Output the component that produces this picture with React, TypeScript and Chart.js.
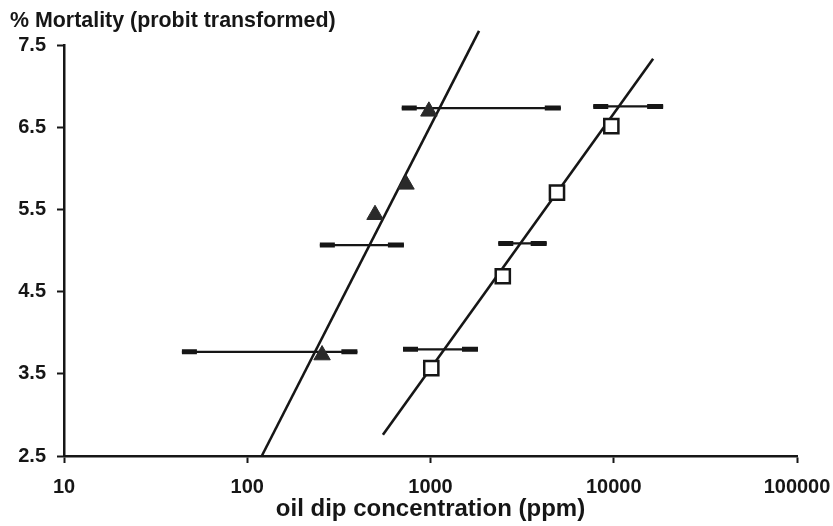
import React, { useEffect, useRef } from "react";
import { Chart, registerables } from "chart.js";

Chart.register(...registerables);

// Axis ticks
const xTickValues = [10, 100, 1000, 10000, 100000];
const yTickValues = [2.5, 3.5, 4.5, 5.5, 6.5, 7.5];

// Observed mortality (probit) — triangle series
const triangleConc = [256, 498, 735, 980];
const triangleProbit = [3.73, 5.44, 5.81, 6.7];

// Observed mortality (probit) — square series
const squareConc = [1010, 2480, 4900, 9700];
const squareProbit = [3.57, 4.69, 5.71, 6.52];

// Fitted probit regression lines (end points)
const triangleFitConc = [120, 1840];
const triangleFitProbit = [2.5, 7.68];
const squareFitConc = [550, 16400];
const squareFitProbit = [2.76, 7.34];

// Confidence intervals of the lethal concentrations
const triangleCiProbit = [3.77, 5.07, 6.74];
const triangleCiLow = [44, 249, 697];
const triangleCiHigh = [399, 716, 5140];
const squareCiProbit = [3.8, 5.09, 6.76];
const squareCiLow = [708, 2344, 7730];
const squareCiHigh = [1816, 4305, 18600];

const FONT = "'Liberation Sans', Arial, Helvetica, sans-serif";
const INK = "#161616";

const pairs = (xs: number[], ys: number[]) => xs.map((x, i) => ({ x, y: ys[i] }));

const intervals = [
  ...triangleCiProbit.map((y, i) => ({ y, lo: triangleCiLow[i], hi: triangleCiHigh[i] })),
  ...squareCiProbit.map((y, i) => ({ y, lo: squareCiLow[i], hi: squareCiHigh[i] })),
];

// Horizontal interval bars with heavy end segments
const intervalBars = {
  id: "intervalBars",
  beforeDatasetsDraw(chart: any) {
    const { ctx, scales } = chart;
    const xs = scales.x;
    const ys = scales.y;
    ctx.save();
    ctx.strokeStyle = INK;
    ctx.lineCap = "butt";
    for (const iv of intervals) {
      const y = ys.getPixelForValue(iv.y);
      const x1 = xs.getPixelForValue(iv.lo);
      const x2 = xs.getPixelForValue(iv.hi);
      ctx.lineWidth = 2.2;
      ctx.beginPath();
      ctx.moveTo(x1, y);
      ctx.lineTo(x2, y);
      ctx.stroke();
      ctx.lineWidth = 5;
      ctx.beginPath();
      ctx.moveTo(x1, y);
      ctx.lineTo(x1 + 15, y);
      ctx.moveTo(x2 - 16, y);
      ctx.lineTo(x2, y);
      ctx.stroke();
    }
    ctx.restore();
  },
};

export default function App() {
  const canvasRef = useRef<HTMLCanvasElement | null>(null);

  useEffect(() => {
    if (!canvasRef.current) return;
    const chart = new Chart(canvasRef.current, {
      type: "scatter",
      data: {
        datasets: [
          {
            data: pairs(triangleConc, triangleProbit),
            pointStyle: "triangle",
            pointRadius: 9.5,
            backgroundColor: "#2a2a2a",
            borderColor: "#2a2a2a",
            borderWidth: 1,
          },
          {
            data: pairs(squareConc, squareProbit),
            pointStyle: "rect",
            pointRadius: 10,
            backgroundColor: "#ffffff",
            borderColor: INK,
            borderWidth: 2.5,
          },
          {
            type: "line",
            data: pairs(triangleFitConc, triangleFitProbit),
            showLine: true,
            pointRadius: 0,
            borderColor: INK,
            borderWidth: 2.6,
            clip: false,
          },
          {
            type: "line",
            data: pairs(squareFitConc, squareFitProbit),
            showLine: true,
            pointRadius: 0,
            borderColor: INK,
            borderWidth: 2.6,
            clip: false,
          },
        ],
      } as any,
      options: {
        animation: false,
        responsive: true,
        maintainAspectRatio: false,
        layout: { padding: { left: 10, right: 36, top: 0, bottom: 0 } },
        plugins: {
          legend: { display: false },
          tooltip: { enabled: false },
          title: {
            display: true,
            text: "% Mortality (probit transformed)",
            align: "start",
            color: INK,
            font: { family: FONT, size: 21.4, weight: "bold" },
            padding: { top: 8, bottom: 12 },
          },
        },
        scales: {
          x: {
            type: "logarithmic",
            min: 10,
            max: 100000,
            afterBuildTicks: (scale: any) => {
              scale.ticks = xTickValues.map((value) => ({ value }));
            },
            afterFit: (scale: any) => {
              scale.height = 70;
              scale.paddingLeft = 0;
              scale.paddingRight = 0;
            },
            ticks: {
              color: INK,
              padding: 12,
              maxRotation: 0,
              autoSkip: false,
              font: { family: FONT, size: 20, weight: "bold" },
              callback: (v: any) => String(v),
            },
            grid: {
              display: true,
              drawOnChartArea: false,
              drawTicks: true,
              tickLength: 7,
              tickWidth: 2,
              color: INK,
            },
            border: { display: true, color: INK, width: 2.5 },
            title: {
              display: true,
              text: "oil dip concentration (ppm)",
              color: INK,
              font: { family: FONT, size: 24, weight: "bold" },
              padding: { top: 0, bottom: 2 },
            },
          },
          y: {
            type: "linear",
            min: 2.5,
            max: 7.5,
            afterBuildTicks: (scale: any) => {
              scale.ticks = yTickValues.map((value) => ({ value }));
            },
            afterFit: (scale: any) => {
              scale.width = 54;
            },
            ticks: {
              color: INK,
              padding: 11,
              autoSkip: false,
              font: { family: FONT, size: 20, weight: "bold" },
              callback: (v: any) => Number(v).toFixed(1),
            },
            grid: {
              display: true,
              drawOnChartArea: false,
              drawTicks: true,
              tickLength: 7,
              tickWidth: 2,
              color: INK,
            },
            border: { display: true, color: INK, width: 2.5 },
          },
        },
      },
      plugins: [intervalBars],
    });
    return () => chart.destroy();
  }, []);

  return (
    <div
      style={{
        position: "fixed",
        left: 0,
        top: 0,
        width: 833,
        height: 526,
        background: "#ffffff",
      }}
    >
      <canvas ref={canvasRef} />
    </div>
  );
}
